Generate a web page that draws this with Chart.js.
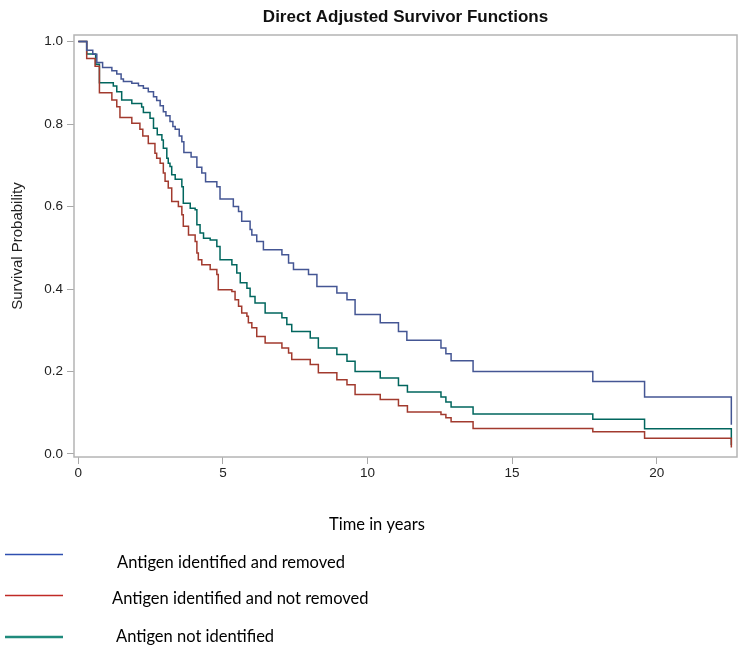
<!DOCTYPE html>
<html>
<head>
<meta charset="utf-8">
<script src="https://cdn.jsdelivr.net/npm/chart.js@4/dist/chart.umd.min.js"></script>
<style>
  body { margin: 0; background: #fff; }
  canvas { display: block; }
</style>
</head>
<body>
<canvas id="survChart" width="744" height="662"></canvas>
<script>
// series names (legend order)
const seriesNames = [
    "Antigen identified and removed",
    "Antigen identified and not removed",
    "Antigen not identified"
];

// time in years, survival probability
const timesRemoved = [0, 0.29, 0.50, 0.64, 0.84, 1.16, 1.33, 1.48, 1.56, 1.85, 2.08, 2.25, 2.42, 2.60, 2.71, 2.83,
    2.94, 3.03, 3.17, 3.27, 3.35, 3.49, 3.58, 3.65, 3.90, 4.10, 4.27, 4.40, 4.79, 4.90, 5.36, 5.54,
    5.65, 5.94, 6.00, 6.17, 6.40, 7.04, 7.27, 7.44, 7.96, 8.25, 8.94, 9.29, 9.57, 10.44, 11.07, 11.36,
    12.54, 12.71, 12.89, 13.65, 17.79, 19.58, 22.58];
const survRemoved = [1.0, 0.979, 0.969, 0.949, 0.937, 0.929, 0.921, 0.909, 0.903, 0.899, 0.893, 0.887, 0.878, 0.866, 0.857, 0.844,
    0.830, 0.820, 0.806, 0.794, 0.787, 0.771, 0.757, 0.731, 0.720, 0.695, 0.681, 0.660, 0.648, 0.618, 0.600, 0.588,
    0.564, 0.544, 0.531, 0.515, 0.495, 0.483, 0.463, 0.447, 0.435, 0.406, 0.390, 0.374, 0.338, 0.318, 0.297, 0.276,
    0.257, 0.243, 0.226, 0.200, 0.176, 0.138, 0.071];

const timesNotRemoved = [0, 0.29, 0.58, 0.73, 1.16, 1.33, 1.44, 1.85, 2.13, 2.23, 2.42, 2.65, 2.71, 2.83, 2.94, 3.00,
    3.11, 3.23, 3.46, 3.58, 3.63, 3.81, 4.04, 4.10, 4.15, 4.27, 4.56, 4.79, 4.84, 5.31, 5.42, 5.54,
    5.65, 5.83, 5.88, 6.00, 6.17, 6.46, 7.04, 7.27, 7.38, 8.02, 8.30, 8.94, 9.29, 9.57, 10.44, 11.07,
    11.38, 12.54, 12.71, 12.89, 13.65, 17.79, 19.58, 22.58];
const survNotRemoved = [1.0, 0.959, 0.940, 0.876, 0.858, 0.842, 0.816, 0.802, 0.787, 0.771, 0.753, 0.729, 0.717, 0.705, 0.681, 0.661,
    0.645, 0.612, 0.600, 0.580, 0.552, 0.531, 0.515, 0.487, 0.471, 0.459, 0.447, 0.435, 0.398, 0.394, 0.374, 0.358,
    0.342, 0.334, 0.318, 0.306, 0.285, 0.269, 0.257, 0.245, 0.229, 0.217, 0.197, 0.180, 0.168, 0.144, 0.132, 0.117,
    0.102, 0.096, 0.088, 0.078, 0.062, 0.054, 0.038, 0.016];

const timesNotIdentified = [0, 0.29, 0.60, 0.73, 1.21, 1.33, 1.50, 1.85, 2.19, 2.25, 2.48, 2.60, 2.73, 2.89, 2.94, 3.06,
    3.11, 3.17, 3.23, 3.35, 3.58, 3.63, 3.87, 4.04, 4.10, 4.21, 4.33, 4.56, 4.79, 4.90, 5.31, 5.48,
    5.60, 5.83, 5.94, 6.11, 6.46, 7.04, 7.21, 7.38, 8.02, 8.30, 8.94, 9.29, 9.57, 10.44, 11.07, 11.38,
    12.54, 12.71, 12.89, 13.65, 17.79, 19.58, 22.58];
const survNotIdentified = [1.0, 0.970, 0.945, 0.900, 0.892, 0.878, 0.858, 0.850, 0.841, 0.828, 0.814, 0.790, 0.774, 0.761, 0.741, 0.717,
    0.705, 0.697, 0.677, 0.666, 0.648, 0.608, 0.596, 0.592, 0.556, 0.536, 0.523, 0.519, 0.503, 0.471, 0.459, 0.439,
    0.415, 0.402, 0.382, 0.366, 0.342, 0.330, 0.314, 0.297, 0.281, 0.257, 0.241, 0.225, 0.200, 0.184, 0.166, 0.150,
    0.138, 0.126, 0.114, 0.097, 0.084, 0.061, 0.022];

const xTicks = [0, 5, 10, 15, 20];
const yTicks = [0, 0.2, 0.4, 0.6, 0.8, 1.0];

const lineColors = ["#445694", "#A23A2E", "#01665E"];
const legendColors = ["#2f4fb0", "#c02a26", "#1f8a7c"];

function toPoints(times, surv) {
    return times.map((t, i) => ({ x: t, y: surv[i] }));
}

const sasFont = "'Liberation Sans', Arial, sans-serif";
const tickFont = { family: sasFont, size: 13.5 };
const axisGray = "#a8a8a8";

// frame around the plot area (SAS style box)
const framePlugin = {
    id: "frame",
    afterDraw(chart) {
        const { ctx, chartArea: a } = chart;
        ctx.save();
        ctx.strokeStyle = "#b4b4b4";
        ctx.lineWidth = 1.5;
        ctx.strokeRect(a.left, a.top, a.right - a.left, a.bottom - a.top);
        ctx.restore();
    }
};

// title, x axis label and the hand-made legend underneath
const extrasPlugin = {
    id: "extras",
    afterDraw(chart) {
        const ctx = chart.ctx;
        const a = chart.chartArea;
        ctx.save();
        ctx.fillStyle = "#111";
        ctx.font = "bold 17px " + sasFont;
        ctx.textAlign = "center";
        ctx.textBaseline = "middle";
        ctx.fillText("Direct Adjusted Survivor Functions", (a.left + a.right) / 2, 17);

        ctx.font = "16.5px Lato, sans-serif";
        ctx.textAlign = "left";
        ctx.fillStyle = "#000";
        ctx.fillText("Time in years", 329, 525);

        const rows = [
            { lineY: 554.5, textX: 117, textY: 563, width: 1.5 },
            { lineY: 595.5, textX: 112, textY: 599, width: 1.5 },
            { lineY: 637, textX: 116, textY: 637, width: 2.5 }
        ];
        rows.forEach((r, i) => {
            ctx.strokeStyle = legendColors[i];
            ctx.lineWidth = r.width;
            ctx.beginPath();
            ctx.moveTo(5, r.lineY);
            ctx.lineTo(63, r.lineY);
            ctx.stroke();
            ctx.fillText(seriesNames[i], r.textX, r.textY);
        });
        ctx.restore();
    }
};

const ctx = document.getElementById("survChart");

new Chart(ctx, {
    type: "line",
    data: {
        datasets: [
            { label: seriesNames[0], data: toPoints(timesRemoved, survRemoved) },
            { label: seriesNames[1], data: toPoints(timesNotRemoved, survNotRemoved) },
            { label: seriesNames[2], data: toPoints(timesNotIdentified, survNotIdentified) }
        ].map((ds, i) => Object.assign(ds, {
            borderColor: lineColors[i],
            borderWidth: 1.5,
            pointRadius: 0,
            stepped: "before",
            fill: false
        }))
    },
    options: {
        responsive: false,
        animation: false,
        devicePixelRatio: 1,
        layout: { padding: { top: 35, right: 7, bottom: 175, left: 0 } },
        plugins: {
            legend: { display: false },
            tooltip: { enabled: false }
        },
        scales: {
            x: {
                type: "linear",
                min: -0.149,
                max: 22.776,
                afterFit: s => { s.height = 30; },
                afterBuildTicks: s => { s.ticks = xTicks.map(v => ({ value: v })); },
                grid: { drawOnChartArea: false, drawTicks: true, tickLength: 7, tickColor: axisGray },
                border: { display: false },
                ticks: { font: tickFont, color: "#222", padding: 1, maxRotation: 0 }
            },
            y: {
                type: "linear",
                min: -0.0073,
                max: 1.0158,
                afterFit: s => { s.width = 74; },
                afterBuildTicks: s => { s.ticks = yTicks.map(v => ({ value: v })); },
                grid: { drawOnChartArea: false, drawTicks: true, tickLength: 7, tickColor: axisGray },
                border: { display: false },
                ticks: {
                    font: tickFont, color: "#222", padding: 4,
                    callback: v => v.toFixed(1)
                },
                title: {
                    display: true,
                    text: "Survival Probability",
                    font: { family: sasFont, size: 15 },
                    color: "#222",
                    padding: { top: 9, bottom: 0 }
                }
            }
        }
    },
    plugins: [framePlugin, extrasPlugin]
});
</script>
</body>
</html>
